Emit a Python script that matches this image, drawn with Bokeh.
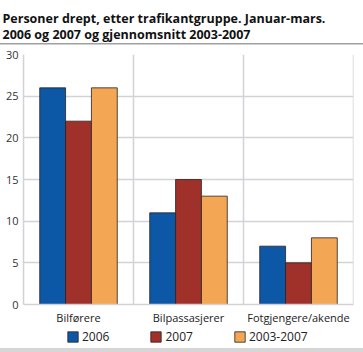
from bokeh.plotting import figure
from bokeh.layouts import column
from bokeh.models import (FactorRange, Legend, LegendItem, FixedTicker,
                          ColumnDataSource, Span)
from bokeh.transform import dodge
from bokeh.embed import file_html
from bokeh.resources import INLINE

categories = ["Bilførere", "Bilpassasjerer", "Fotgjengere/akende"]
series_names = ["2006", "2007", "2003-2007"]
v2006 = [26, 11, 7]
v2007 = [22, 15, 5]
vavg = [26, 13, 8]
y_ticks = [0, 5, 10, 15, 20, 25, 30]
colors = ["#0c58a6", "#a0302a", "#f3a654"]

FONT = "Open Sans"
GRID = "#d2d2d8"
OUTLINE = "#2a2220"

source = ColumnDataSource(dict(x=categories, s0=v2006, s1=v2007, s2=vavg))

p = figure(width=363, height=327,
           x_range=FactorRange(factors=categories, range_padding=0),
           y_range=(0, 30),
           output_backend="svg", toolbar_location=None,
           min_border_left=23, min_border_right=10,
           min_border_top=53, min_border_bottom=22)

# grey rule under the title
p.border_fill_alpha = 0
p.styles = {
    "background-color": "white",
    "background-image": "linear-gradient(#a0a0a0,#a0a0a0)",
    "background-size": "100% 1.5px",
    "background-position": "0 43px",
    "background-repeat": "no-repeat",
}

p.title.text = ("Personer drept, etter trafikantgruppe. Januar-mars.\n"
                "2006 og 2007 og gjennomsnitt 2003-2007")
p.title.text_font = FONT
p.title.text_font_size = "12.5px"
p.title.text_font_style = "bold"
p.title.text_color = "#111111"
p.title.text_line_height = 0.94
p.title.align = "left"
p.title.vertical_align = "top"
p.title.offset = -21
p.title.standoff = 19

bw = 0.235
for i, (key, col) in enumerate(zip(["s0", "s1", "s2"], colors)):
    p.vbar(x=dodge("x", (i - 1) * bw, range=p.x_range), top=key, width=bw,
           source=source, fill_color=col, line_color=OUTLINE,
           line_alpha=0.8, line_width=1)

# axes
p.yaxis.ticker = FixedTicker(ticks=y_ticks)
p.yaxis.major_tick_line_color = None
p.yaxis.minor_tick_line_color = None
p.yaxis.major_tick_out = 0
p.yaxis.major_tick_in = 0
p.yaxis.minor_tick_out = 0
p.yaxis.axis_line_color = GRID
p.yaxis.axis_line_width = 1.5
p.yaxis.major_label_text_font = FONT
p.yaxis.major_label_text_font_size = "11px"
p.yaxis.major_label_text_color = "#333333"
p.yaxis.major_label_standoff = 5

p.xaxis.major_tick_line_color = None
p.xaxis.minor_tick_line_color = None
p.xaxis.major_tick_out = 0
p.xaxis.major_tick_in = 0
p.xaxis.axis_line_color = GRID
p.xaxis.axis_line_width = 1.5
p.xaxis.major_label_text_font = FONT
p.xaxis.major_label_text_font_size = "11px"
p.xaxis.major_label_text_color = "#222222"
p.xaxis.major_label_standoff = 5

p.ygrid.ticker = FixedTicker(ticks=y_ticks)
p.ygrid.grid_line_color = GRID
p.ygrid.grid_line_width = 1.5
p.xgrid.grid_line_color = None
p.outline_line_color = None

# separators between category slots (slot boundaries on the factor axis)
for b in range(1, len(categories) + 1):
    p.add_layout(Span(location=b, dimension="height", line_color=GRID,
                      line_width=1.5, level="underlay"))

# legend strip below the chart
pl = figure(width=363, height=25, x_range=(0, 1), y_range=(0, 1),
            x_axis_type=None, y_axis_type=None,
            output_backend="svg", toolbar_location=None,
            min_border=0)
pl.xgrid.grid_line_color = None
pl.ygrid.grid_line_color = None
pl.outline_line_color = None
pl.background_fill_alpha = 0
pl.border_fill_alpha = 0
pl.styles = {
    "background-color": "white",
    "background-image": "linear-gradient(#d6d6d6,#d6d6d6)",
    "background-size": "100% 4px",
    "background-position": "0 21px",
    "background-repeat": "no-repeat",
}
# legend proxies (kept outside the strip's visible range)
swatches = [pl.vbar(x=[-1], top=[0], width=0.01, fill_color=c,
                    line_color=OUTLINE, line_alpha=0.8) for c in colors]
legend = Legend(items=[LegendItem(label=n, renderers=[r])
                       for n, r in zip(series_names, swatches)],
                orientation="horizontal", location=(43, 7))
legend.glyph_width = 13
legend.glyph_height = 13
legend.label_height = 13
legend.label_standoff = 3
legend.spacing = 40
legend.padding = 0
legend.margin = 0
legend.border_line_color = None
legend.background_fill_alpha = 0
legend.label_text_font = FONT
legend.label_text_font_size = "12px"
legend.label_text_color = "#222222"
pl.add_layout(legend, "center")

layout = column(p, pl, spacing=0)
open("out.html", "w").write(file_html(layout, INLINE))
